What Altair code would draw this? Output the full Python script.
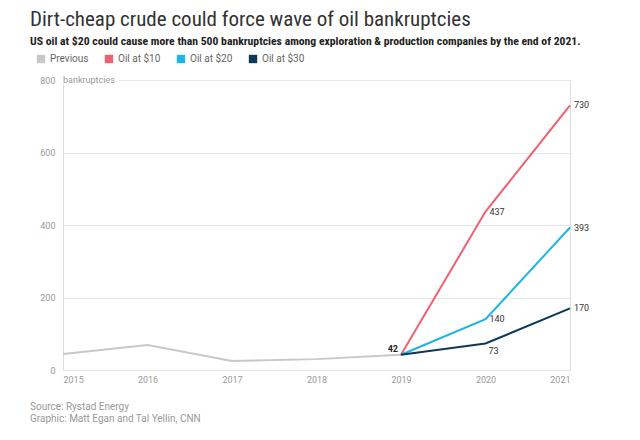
import altair as alt
import pandas as pd

years_prev = [2015, 2016, 2017, 2018, 2019]
prev_vals = [44, 69, 25, 30, 42]
years_fc = [2019, 2020, 2021]
oil10 = [42, 437, 730]
oil20 = [42, 140, 393]
oil30 = [42, 73, 170]

series_names = ["Previous", "Oil at $10", "Oil at $20", "Oil at $30"]
series_colors = ["#c8c8c8", "#f0606f", "#1cb5e6", "#0c3a56"]

rows = []
for y, v in zip(years_prev, prev_vals):
    rows.append({"year": y, "value": v, "series": "Previous"})
for name, vals in [("Oil at $10", oil10), ("Oil at $20", oil20), ("Oil at $30", oil30)]:
    for y, v in zip(years_fc, vals):
        rows.append({"year": y, "value": v, "series": name})
df = pd.DataFrame(rows)

lab_right = pd.DataFrame({"year": [2020, 2020, 2021, 2021, 2021], "value": [437, 140, 730, 393, 170]})
lab_below = pd.DataFrame({"year": [2020], "value": [73]})
lab_start = pd.DataFrame({"year": [2019], "value": [42]})
unit_df = pd.DataFrame({"year": [2015], "value": [800], "t": ["bankruptcies"]})
source_df = pd.DataFrame({"t": ["Source: Rystad Energy"]})
credit_df = pd.DataFrame({"t": ["Graphic: Matt Egan and Tal Yellin, CNN"]})

FONT = "Roboto"
COND = "'Roboto Condensed', 'DejaVu Sans Condensed', Roboto, sans-serif"
x_scale = alt.Scale(domain=[2015, 2021], nice=False, zero=False)
y_scale = alt.Scale(domain=[0, 800], nice=False)
color_scale = alt.Scale(domain=series_names, range=series_colors)

x_enc = alt.X("year:Q", scale=x_scale, title=None,
              axis=alt.Axis(values=[2015, 2016, 2017, 2018, 2019, 2020, 2021], format="d",
                            grid=False, domain=False, ticks=False, labelPadding=5,
                            labelFontSize=9, labelColor="#999999", labelFont=FONT))
y_enc = alt.Y("value:Q", scale=y_scale, title=None,
              axis=alt.Axis(values=[0, 200, 400, 600, 800], grid=True, gridColor="#e8e8e8",
                            gridWidth=1, domain=False, ticks=False, labelPadding=8,
                            labelFontSize=9, labelColor="#999999", labelFont=FONT))

def xy():
    return dict(x=alt.X("year:Q", scale=x_scale), y=alt.Y("value:Q", scale=y_scale))

legend_layer = alt.Chart(df).mark_point(filled=True, shape="square", opacity=0).encode(
    x=x_enc, y=y_enc,
    fill=alt.Fill("series:N", scale=color_scale, sort=series_names, title=None,
                  legend=alt.Legend(orient="none", legendX=-27, legendY=-26, direction="horizontal",
                                    symbolType="square", symbolSize=70, symbolOpacity=1,
                                    symbolStrokeWidth=0, labelFontSize=10, labelColor="#666666",
                                    labelFont=FONT, columnPadding=15, labelOffset=4)),
)

lines = alt.Chart(df).mark_line(strokeWidth=2).encode(
    **xy(),
    stroke=alt.Stroke("series:N", scale=color_scale, legend=None),
    detail="series:N",
    order="year:Q",
)

mask = alt.Chart(unit_df).mark_rect(color="white").encode(
    x=alt.value(-1), x2=alt.value(56), y=alt.value(-4), y2=alt.value(4))
unit_text = alt.Chart(unit_df).mark_text(align="left", baseline="middle", fontSize=9,
                                          color="#999999", font=FONT).encode(**xy(), text="t:N")

t_right = alt.Chart(lab_right).mark_text(align="left", baseline="middle", dx=4, fontSize=9,
                                         color="#333333", font=FONT).encode(**xy(), text="value:Q")
t_below = alt.Chart(lab_below).mark_text(align="left", baseline="middle", dx=3, dy=7, fontSize=9,
                                         color="#333333", font=FONT).encode(**xy(), text="value:Q")
t_start = alt.Chart(lab_start).mark_text(align="right", baseline="middle", dx=-3, dy=-6, fontSize=9,
                                         fontWeight="bold", color="#222222", font=FONT).encode(**xy(), text="value:Q")

source = alt.Chart(source_df).mark_text(align="left", baseline="middle", fontSize=10,
                                        color="#999999", font=FONT).encode(
    x=alt.value(-33), y=alt.value(327), text="t:N")
credit = alt.Chart(credit_df).mark_text(align="left", baseline="middle", fontSize=10,
                                        color="#999999", font=FONT).encode(
    x=alt.value(-33), y=alt.value(339), text="t:N")

chart = alt.layer(legend_layer, lines, mask, unit_text, t_right, t_below, t_start, source, credit).properties(
    width=507, height=290,
    autosize=alt.AutoSizeParams(type="none"),
    padding={"left": 55, "top": 72, "right": 62, "bottom": 60},
    title=alt.TitleParams(
        text="Dirt-cheap crude could force wave of oil bankruptcies",
        subtitle="US oil at $20 could cause more than 500 bankruptcies among exploration & production companies by the end of 2021.",
        anchor="start", frame="group", dx=-33, offset=6,
        font=COND, fontSize=21, fontWeight="normal", color="#333333",
        subtitleFont=COND, subtitleFontSize=11.7, subtitleFontWeight="bold",
        subtitleColor="#222222", subtitlePadding=6),
).configure_view(stroke=None).configure(background="white")

chart.save("out.html", embed_options={"renderer": "svg", "actions": False})
